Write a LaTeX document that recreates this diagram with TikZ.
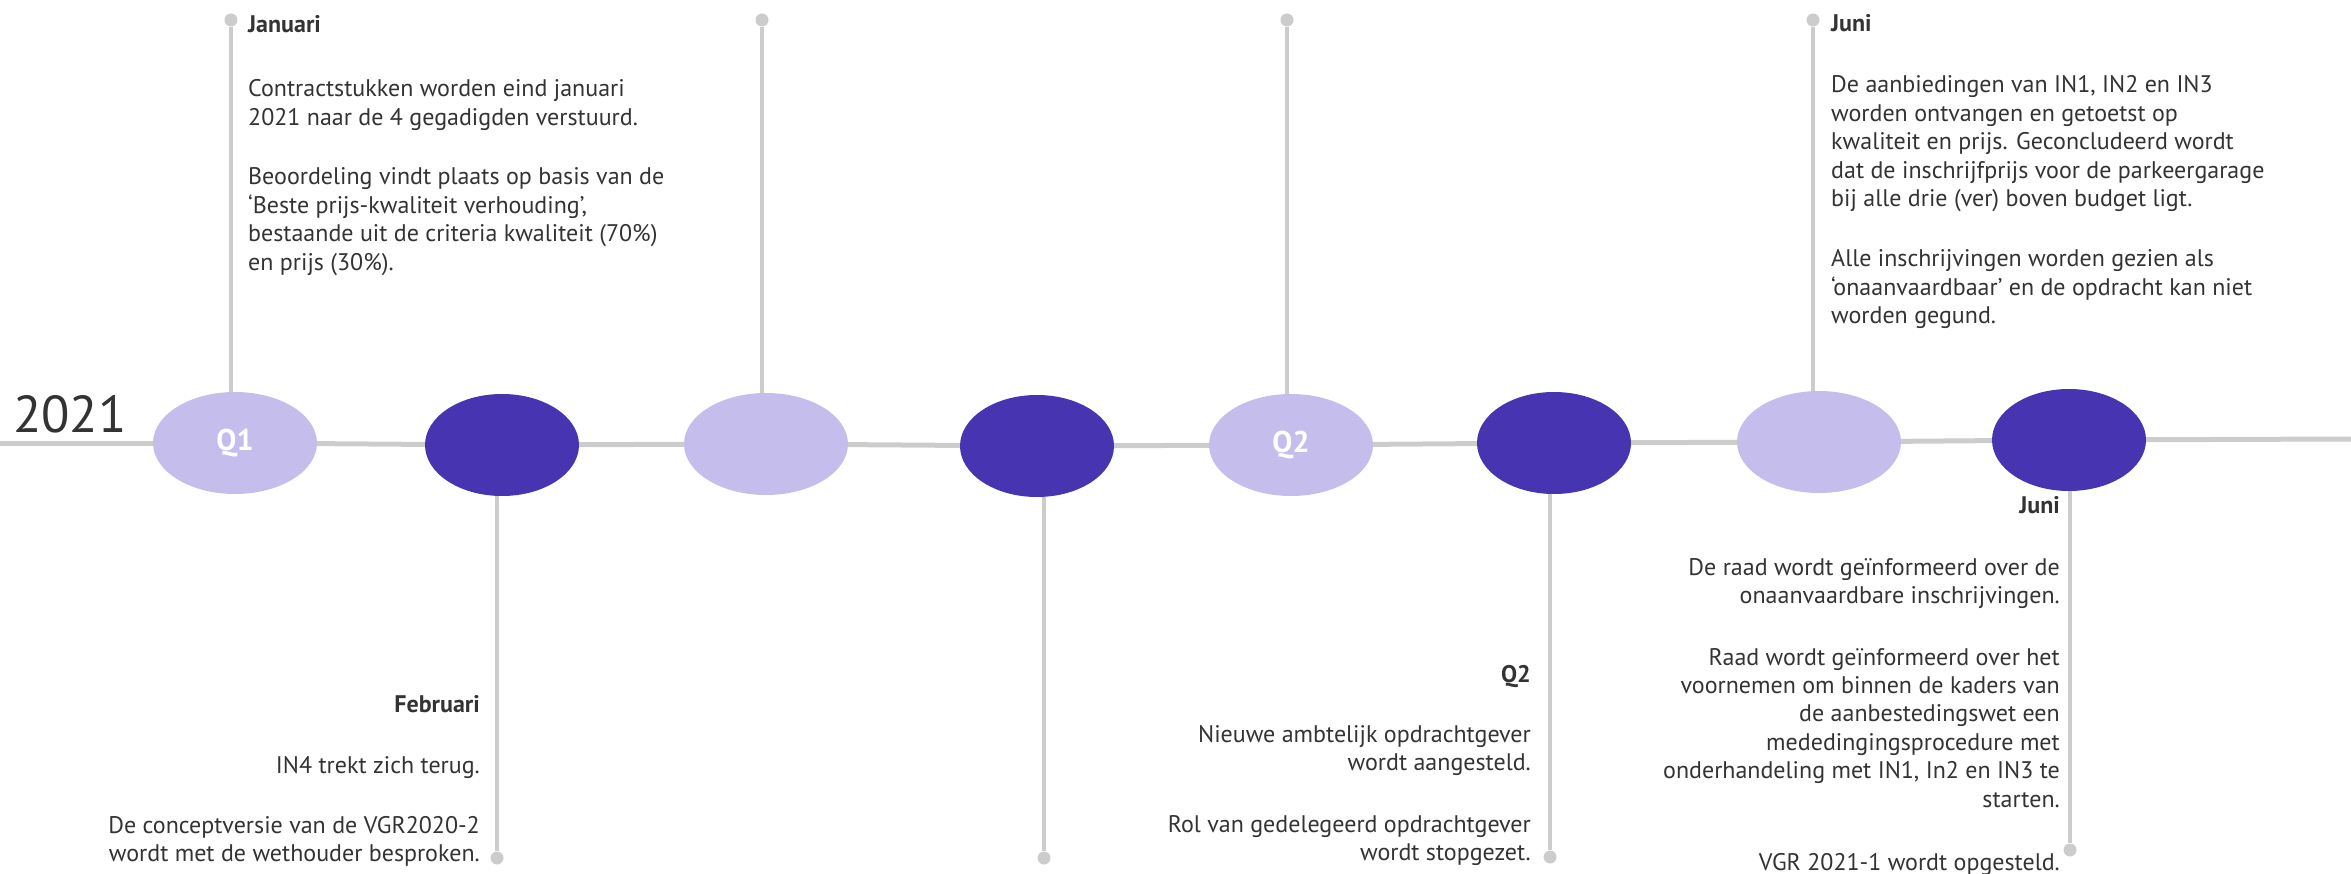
\documentclass[tikz,border=0pt]{standalone}
\usepackage{fontspec}
\setmainfont{PT Sans}
\usetikzlibrary{shapes.geometric}
\definecolor{lightlav}{HTML}{C5BEEC}
\definecolor{deepind}{HTML}{4634B0}
\definecolor{stemgray}{HTML}{CCCCCC}
\definecolor{inkgray}{HTML}{333333}
\begin{document}
\begin{tikzpicture}[x=1pt,y=-1pt,
  lightev/.style={ellipse, fill=lightlav, minimum width=164pt, minimum height=102pt, inner sep=0pt,
    text=white, font=\fontsize{30}{30}\selectfont\bfseries},
  darkev/.style={ellipse, fill=deepind, minimum width=154pt, minimum height=102pt, inner sep=0pt},
  enddot/.style={circle, fill=stemgray, minimum size=13pt, inner sep=0pt},
  stem/.style={draw=stemgray, line width=4.5pt},
  axis/.style={draw=stemgray, line width=5pt},
  bodytxt/.style={inner sep=0pt, text=inkgray, font=\fontsize{24}{28.4}\selectfont},
  headtxt/.style={inner sep=0pt, text=inkgray, font=\fontsize{24}{28.4}\selectfont\bfseries},
  % multi-line blocks are placed by the baseline of their last line
  lefttxt/.style={bodytxt, anchor=base west, align=left},
  righttxt/.style={bodytxt, anchor=base east, align=right},
]
\useasboundingbox (0,0) rectangle (2351,874);

% year label
\node[inner sep=0pt, anchor=base west, text=inkgray, font=\fontsize{52}{52}\selectfont] (year) at (13,432) {2021};

% events on the time axis
\node[lightev] (e1) at (235,443) {Q1};
\node[darkev]  (e2) at (502,445) {};
\node[lightev] (e3) at (766,444) {};
\node[darkev]  (e4) at (1037,446) {};
\node[lightev] (e5) at (1291,445) {Q2};
\node[darkev]  (e6) at (1554,443) {};
\node[lightev] (e7) at (1819,442) {};
\node[darkev]  (e8) at (2069,440) {};

% time axis
\coordinate (axstart) at (0,443);
\coordinate (axend) at (2351,439);
\draw[axis] (axstart) -- (e1);
\draw[axis] (e1) -- (e2);
\draw[axis] (e2) -- (e3);
\draw[axis] (e3) -- (e4);
\draw[axis] (e4) -- (e5);
\draw[axis] (e5) -- (e6);
\draw[axis] (e6) -- (e7);
\draw[axis] (e7) -- (e8);
\draw[axis] (e8) -- (axend);

% stems upwards
\node[enddot] (t1) at (231,20) {};
\node[enddot] (t3) at (762,20) {};
\node[enddot] (t5) at (1287,20) {};
\node[enddot] (t7) at (1813,20) {};
\draw[stem] (t1) -- (t1 |- e1.north);
\draw[stem] (t3) -- (t3 |- e3.north);
\draw[stem] (t5) -- (t5 |- e5.north);
\draw[stem] (t7) -- (t7 |- e7.north);

% stems downwards
\node[enddot] (b2) at (497,858) {};
\node[enddot] (b4) at (1044,858) {};
\node[enddot] (b6) at (1550,857) {};
\node[enddot] (b8) at (2070,850) {};
\draw[stem] (b2) -- (b2 |- e2.south);
\draw[stem] (b4) -- (b4 |- e4.south);
\draw[stem] (b6) -- (b6 |- e6.south);
\draw[stem] (b8) -- (b8 |- e8.south);

% January
\node[headtxt, anchor=base west] (janh) at (248,33) {Januari};
\node[lefttxt] (jan1) at (248,125.4) {Contractstukken worden eind januari\\2021 naar de 4 gegadigden verstuurd.};
\node[lefttxt] (jan2) at (248,270.2) {Beoordeling vindt plaats op basis van de\\‘Beste prijs-kwaliteit verhouding’,\\bestaande uit de criteria kwaliteit (70\%)\\en prijs (30\%).};

% June (upper)
\node[headtxt, anchor=base west] (junh) at (1831,32) {Juni};
\node[lefttxt] (jun1) at (1831,206.6) {De aanbiedingen van IN1, IN2 en IN3\\worden ontvangen en getoetst op\\kwaliteit en prijs. Geconcludeerd wordt\\dat de inschrijfprijs voor de parkeergarage\\bij alle drie (ver) boven budget ligt.};
\node[lefttxt] (jun2) at (1831,323.8) {Alle inschrijvingen worden gezien als\\‘onaanvaardbaar’ en de opdracht kan niet\\worden gegund.};

% February
\node[headtxt, anchor=base east] (febh) at (480,712) {Februari};
\node[righttxt] (feb1) at (480,773) {IN4 trekt zich terug.};
\node[righttxt] (feb2) at (480,861.4) {De conceptversie van de VGR2020-2\\wordt met de wethouder besproken.};

% Q2
\node[headtxt, anchor=base east] (q2h) at (1531,682) {Q2};
\node[righttxt] (q21) at (1531,770.4) {Nieuwe ambtelijk opdrachtgever\\wordt aangesteld.};
\node[righttxt] (q22) at (1531,860.4) {Rol van gedelegeerd opdrachtgever\\wordt stopgezet.};

% June (lower)
\node[headtxt, anchor=base east] (jlh) at (2060,513) {Juni};
\node[righttxt] (jl1) at (2060,603.4) {De raad wordt geïnformeerd over de\\onaanvaardbare inschrijvingen.};
\node[righttxt] (jl2) at (2060,807) {Raad wordt geïnformeerd over het\\voornemen om binnen de kaders van\\de aanbestedingswet een\\mededingingsprocedure met\\onderhandeling met IN1, In2 en IN3 te\\starten.};
\node[righttxt] (jl3) at (2060,870) {VGR 2021-1 wordt opgesteld.};
\end{tikzpicture}
\end{document}
